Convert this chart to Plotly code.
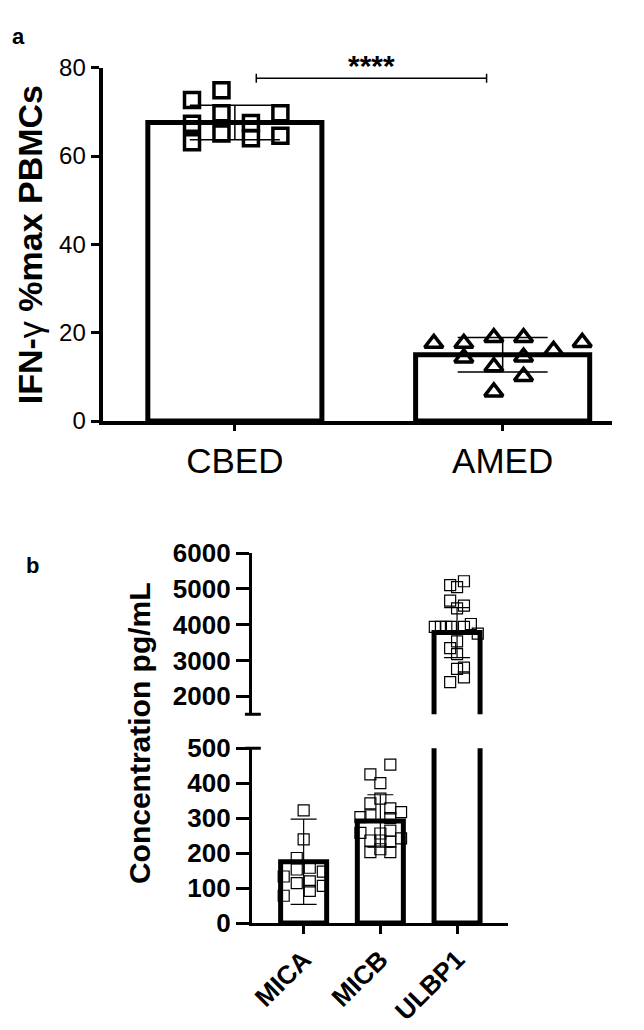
import plotly.graph_objects as go

W, H = 644, 1030
PAGE_OFF = 8  # the page body margin shifts the figure by 8px

# ---- panel a data ----
groups_a = ["CBED", "AMED"]
means_a = [67.6, 15.0]
sd_a = [3.9, 3.9]
cbed_vals = [72.7, 74.9, 69.7, 65.1, 67.3, 63.1, 67.5, 64.0, 69.7, 64.6]
cbed_jit = [-0.16, -0.05, -0.05, -0.05, -0.16, -0.16, 0.06, 0.06, 0.17, 0.17]
amed_vals = [17.6, 17.6, 14.3, 18.9, 12.3, 6.6, 18.9, 14.5, 10.1, 16.0, 17.8]
amed_jit = [-0.257, -0.145, -0.145, -0.033, -0.033, -0.033, 0.078, 0.078, 0.078, 0.19, 0.297]
sig_label = "****"
sig_y = 77.6
sig_x = [0.08, 0.94]

# ---- panel b data ----
groups_b = ["MICA", "MICB", "ULBP1"]
means_b = [175, 292, 3780]
sd_b = [122, 75, 700]
mica_vals = [322, 239, 186, 153, 158, 114, 119, 92, 133, 78, 147, 106]
mica_jit = [0, 0, -0.09, -0.09, 0.08, -0.09, 0.08, 0.08, -0.26, -0.26, 0.25, 0.25]
micb_vals = [453, 425, 400, 342, 356, 328, 317, 303, 308, 300, 256, 264, 236, 236,
             233, 258, 242, 203, 211, 203]
micb_jit = [0.13, -0.13, 0, -0.13, 0, 0.13, 0.27, -0.26, -0.13, 0.13, 0, 0.13, -0.13, 0,
            0.13, -0.26, 0.27, -0.13, 0, 0.13]
ulbp_vals = [5214, 5105, 5051, 4672, 4536, 4455, 4021, 3940, 3940, 3940, 3940, 3940,
             3750, 3533, 3344, 3181, 2800, 2770, 2530, 2395]
ulbp_jit = [0.09, -0.09, 0, -0.09, 0.09, 0, 0.18, -0.29, -0.21, -0.14, -0.08, 0.09,
            0.27, 0, -0.09, 0, 0.09, 0, 0.09, -0.09]


def fx(px):
    return (px - PAGE_OFF) / W


def fy(py):
    return 1 - (py - PAGE_OFF) / H


FONT = "Liberation Sans, Arial, sans-serif"
fig = go.Figure()

# panel a
fig.add_trace(go.Bar(x=[0, 1], y=means_a, width=0.65, xaxis="x", yaxis="y",
                     marker=dict(color="white", line=dict(color="black", width=5))))
fig.add_trace(go.Scatter(x=[0, 1], y=means_a, mode="markers", xaxis="x", yaxis="y",
                         marker=dict(color="rgba(0,0,0,0)", size=1),
                         error_y=dict(type="data", array=sd_a, width=45, thickness=1.5,
                                      color="black")))
fig.add_trace(go.Scatter(x=[0 + j for j in cbed_jit], y=cbed_vals, mode="markers",
                         xaxis="x", yaxis="y",
                         marker=dict(symbol="square-open", size=15, color="black",
                                     line=dict(width=3.5))))
fig.add_trace(go.Scatter(x=[1 + j for j in amed_jit], y=amed_vals, mode="markers",
                         xaxis="x", yaxis="y",
                         marker=dict(symbol="triangle-up-open", size=16, color="black",
                                     line=dict(width=3.5))))

# panel b: lower (y2) and upper (y3) pieces of the broken axis
for ya in ["y2", "y3"]:
    fig.add_trace(go.Bar(x=[0, 1, 2], y=means_b, width=0.6, xaxis="x2", yaxis=ya,
                         marker=dict(color="white", line=dict(color="black", width=5))))
fig.add_trace(go.Scatter(x=[0, 1], y=means_b[:2], mode="markers", xaxis="x2", yaxis="y2",
                         marker=dict(color="rgba(0,0,0,0)", size=1),
                         error_y=dict(type="data", array=sd_b[:2], width=13, thickness=1.2,
                                      color="black")))
fig.add_trace(go.Scatter(x=[2], y=means_b[2:], mode="markers", xaxis="x2", yaxis="y3",
                         marker=dict(color="rgba(0,0,0,0)", size=1),
                         error_y=dict(type="data", array=sd_b[2:], width=13, thickness=1.2,
                                      color="black")))
sq = dict(symbol="square-open", size=11, color="black", line=dict(width=1.2))
fig.add_trace(go.Scatter(x=[0 + j for j in mica_jit], y=mica_vals, mode="markers",
                         xaxis="x2", yaxis="y2", marker=sq))
fig.add_trace(go.Scatter(x=[1 + j for j in micb_jit], y=micb_vals, mode="markers",
                         xaxis="x2", yaxis="y2", marker=sq))
fig.add_trace(go.Scatter(x=[2 + j for j in ulbp_jit], y=ulbp_vals, mode="markers",
                         xaxis="x2", yaxis="y3", marker=sq))

# significance bracket
fig.add_shape(type="line", xref="x", yref="y", x0=sig_x[0], x1=sig_x[1], y0=sig_y, y1=sig_y,
              line=dict(color="black", width=1.5))
for sx in sig_x:
    fig.add_shape(type="line", xref="x", yref="y", x0=sx, x1=sx, y0=sig_y - 1, y1=sig_y + 1,
                  line=dict(color="black", width=1.5))
fig.add_annotation(xref="x", yref="y", x=sum(sig_x) / 2, y=sig_y, text=sig_label,
                   showarrow=False, xanchor="center", yanchor="bottom", yshift=-6,
                   font=dict(size=30, family=FONT, color="black", weight="bold"))

# caps at the break of the y axis in panel b
for py in (720, 755):
    fig.add_shape(type="line", xref="paper", yref="paper", x0=fx(243), x1=fx(259),
                  y0=fy(py), y1=fy(py), line=dict(color="black", width=3))

# axis titles
titles = [
    (27, 236, "IFN-<span style='font-weight:normal'>γ</span> %max PBMCs", 34),
    (137, 739, "Concentration pg/mL", 30),
]
for px, py, txt, size in titles:
    fig.add_annotation(xref="paper", yref="paper", x=fx(px), y=fy(py), text=txt,
                       textangle=-90, showarrow=False, xanchor="center", yanchor="middle",
                       font=dict(size=size, family=FONT, color="black", weight="bold"))

# panel letters
fig.add_annotation(xref="paper", yref="paper", x=0, y=1, text="a", showarrow=False,
                   xanchor="left", yanchor="top", borderpad=0,
                   font=dict(size=22, family=FONT, color="black", weight="bold"))
fig.add_annotation(xref="paper", yref="paper", x=fx(30), y=fy(567), text="b",
                   showarrow=False, xanchor="center", yanchor="middle",
                   font=dict(size=22, family=FONT, color="black", weight="bold"))

axis_common = dict(showgrid=False, zeroline=False, showline=True, linecolor="black",
                   ticks="outside", tickcolor="black")

fig.update_layout(
    width=W, height=H, margin=dict(l=0, r=0, t=0, b=0),
    paper_bgcolor="white", plot_bgcolor="white", showlegend=False,
    font=dict(family=FONT, color="black"),
    xaxis=dict(domain=[fx(100), fx(612)], range=[-0.494, 1.409], anchor="y",
               tickvals=[0, 1], ticktext=groups_a, linewidth=4, ticklen=6, tickwidth=3,
               tickfont=dict(size=35), **axis_common),
    yaxis=dict(domain=[fy(418), fy(54)], range=[0, 80], anchor="x",
               tickvals=[0, 20, 40, 60, 80], linewidth=4, ticklen=8, tickwidth=3,
               tickfont=dict(size=24), **axis_common),
    xaxis2=dict(domain=[fx(250), fx(507)], range=[-0.675, 2.66], anchor="y2",
                tickvals=[0, 1, 2], ticktext=groups_b, tickangle=-45, linewidth=3,
                ticklen=8, tickwidth=3,
                tickfont=dict(size=26, weight="bold"), **axis_common),
    yaxis2=dict(domain=[fy(935), fy(755)], range=[0, 500], anchor="x2",
                tickvals=[0, 100, 200, 300, 400, 500], linewidth=3, ticklen=13,
                tickwidth=3, tickfont=dict(size=26, weight="bold"), **axis_common),
    yaxis3=dict(domain=[fy(720), fy(554)], range=[1500, 6000], anchor="x2",
                tickvals=[2000, 3000, 4000, 5000, 6000], linewidth=3, ticklen=13,
                tickwidth=3, tickfont=dict(size=26, weight="bold"), **axis_common),
)

fig.write_html("out.html")
